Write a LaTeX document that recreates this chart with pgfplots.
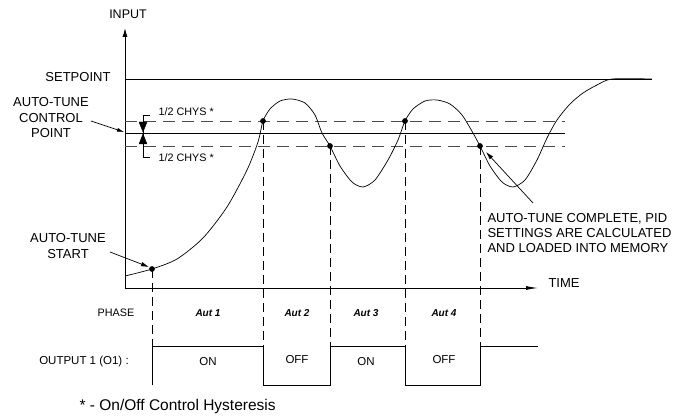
\documentclass[border=0pt]{standalone}
\usepackage{pgfplots}
\pgfplotsset{compat=1.18}
\usetikzlibrary{arrows.meta}
\usepackage{fontspec}
\setmainfont{Liberation Sans}
\begin{document}
\begin{tikzpicture}
\begin{axis}[hide axis, scale only axis, width=689pt, height=419pt,
  xmin=0, xmax=689, ymin=0, ymax=419, y dir=reverse, clip=false]
% bounding box
\addplot[draw=none] coordinates {(0,0) (689,419)};
% axes
\addplot[black, line width=0.9pt, -{Latex[length=9pt,width=5pt]}] coordinates {(125,288) (125,28)};
\addplot[black, line width=0.9pt, -{Latex[length=12pt,width=4pt]}] coordinates {(125,288) (538,288)};
% setpoint
\addplot[black, line width=0.8pt] coordinates {(125,79) (652,79)};
% control point and hysteresis band
\addplot[black, line width=0.8pt] coordinates {(125,133) (565,133)};
\addplot[black!70, line width=0.9pt, dash pattern=on 12pt off 7pt] coordinates {(125,121) (565,121)};
\addplot[black!70, line width=0.9pt, dash pattern=on 12pt off 7pt] coordinates {(125,146) (565,146)};
% vertical dashed markers
\addplot[black, line width=0.7pt, dash pattern=on 9pt off 5pt] coordinates {(152,269) (152,346)};
\addplot[black, line width=0.7pt, dash pattern=on 9pt off 5pt] coordinates {(263,121) (263,346)};
\addplot[black, line width=0.7pt, dash pattern=on 9pt off 5pt] coordinates {(330,146) (330,346)};
\addplot[black, line width=0.7pt, dash pattern=on 9pt off 5pt] coordinates {(405,121) (405,346)};
\addplot[black, line width=0.7pt, dash pattern=on 9pt off 5pt] coordinates {(480,146) (480,346)};
% process curve
\addplot[black, line width=0.7pt, smooth, tension=0.45] coordinates {
(125,276) (152,269) (177,259) (203,238) (227,207) (247,170) (258,142) (263,121)
(270,109) (280,101) (292,99) (305,103) (315,115) (322,133) (330,146) (340,166)
(352,182) (363,187) (375,180) (388,160) (398,140) (405,121) (413,109) (425,101)
(437,100) (450,104) (462,115) (473,133) (480,146) (490,166) (502,182) (513,187)
(525,180) (537,160) (547,138) (557,120) (570,104) (583,93) (597,85) (612,79) (652,79)};
% dots
\addplot[only marks, mark=*, mark size=2.6pt, black] coordinates {(152,269) (263,121) (330,146) (405,121) (480,146)};
% output waveform
\addplot[black, line width=0.8pt] coordinates {(152,385) (152,346) (263,346) (263,385) (330,385) (330,346) (405,346) (405,385) (480,385) (480,346) (538,346)};
% hysteresis brackets
\addplot[black, line width=0.7pt] coordinates {(150,115) (143,115) (143,133)};
\addplot[black, line width=0.7pt] coordinates {(150,157) (143,157) (143,133)};
\addplot[black, fill=black] coordinates {(139,122) (147,122) (143,132) (139,122)};
\addplot[black, fill=black] coordinates {(139,144) (147,144) (143,134) (139,144)};
% annotation arrows
\addplot[black, line width=0.7pt, -{Latex[length=7pt,width=4pt]}] coordinates {(91,121) (124,132)};
\addplot[black, line width=0.7pt, -{Latex[length=8pt,width=4.5pt]}] coordinates {(110,252) (149,267)};
\addplot[black, line width=0.7pt, -{Latex[length=8pt,width=4.5pt]}] coordinates {(533,203) (486,152)};
% labels
\node[font=\fontsize{12.5}{14}\selectfont] at (axis cs:128,14) {INPUT};
\node[font=\fontsize{13}{14}\selectfont, anchor=east] at (axis cs:114,77) {SETPOINT};
\node[font=\fontsize{13}{15.5}\selectfont, align=center] at (axis cs:51,118) {AUTO-TUNE\\CONTROL\\POINT};
\node[font=\fontsize{13}{15.5}\selectfont, align=center] at (axis cs:68,246) {AUTO-TUNE\\START};
\node[font=\fontsize{10.8}{12}\selectfont, anchor=west] at (axis cs:155,112) {1/2 CHYS *};
\node[font=\fontsize{10.8}{12}\selectfont, anchor=west] at (axis cs:155,158) {1/2 CHYS *};
\node[font=\fontsize{13}{15}\selectfont, align=left, anchor=north west] at (axis cs:484,210) {AUTO-TUNE COMPLETE, PID\\SETTINGS ARE CALCULATED\\AND LOADED INTO MEMORY};
\node[font=\fontsize{13}{14}\selectfont, anchor=west] at (axis cs:545,283) {TIME};
\node[font=\fontsize{10.8}{12}\selectfont] at (axis cs:116,313) {PHASE};
\node[font=\fontsize{11.5}{12}\selectfont] at (axis cs:84,362) {OUTPUT 1 (O1) :};
\node[font=\fontsize{10}{12}\selectfont\bfseries\itshape] at (axis cs:208,313) {Aut 1};
\node[font=\fontsize{10}{12}\selectfont\bfseries\itshape] at (axis cs:297,313) {Aut 2};
\node[font=\fontsize{10}{12}\selectfont\bfseries\itshape] at (axis cs:366,313) {Aut 3};
\node[font=\fontsize{10}{12}\selectfont\bfseries\itshape] at (axis cs:444,313) {Aut 4};
\node[font=\fontsize{11.5}{12}\selectfont] at (axis cs:208,362) {ON};
\node[font=\fontsize{11.5}{12}\selectfont] at (axis cs:297,360) {OFF};
\node[font=\fontsize{11.5}{12}\selectfont] at (axis cs:366,362) {ON};
\node[font=\fontsize{11.5}{12}\selectfont] at (axis cs:444,360) {OFF};
\node[font=\fontsize{15.5}{16}\selectfont, anchor=west] at (axis cs:76,406) {* - On/Off Control Hysteresis};
\end{axis}
\end{tikzpicture}
\end{document}
